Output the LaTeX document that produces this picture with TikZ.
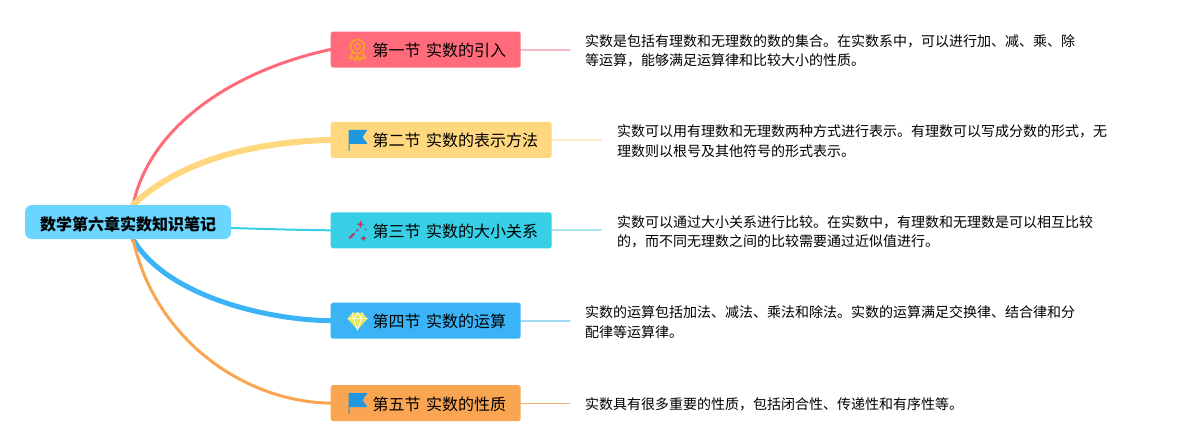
\documentclass[tikz,border=0pt]{standalone}
\usepackage{fontspec}
\setmainfont{Noto Sans CJK SC}
\usetikzlibrary{arrows.meta,positioning,backgrounds,calc}
\definecolor{croot}{HTML}{6AD5FF}
\definecolor{cred}{HTML}{FF6B7A}
\definecolor{credL}{HTML}{F6BCC6}
\definecolor{cyel}{HTML}{FFD77E}
\definecolor{cyelL}{HTML}{FDEBC4}
\definecolor{ccya}{HTML}{36CFE5}
\definecolor{ccyaL}{HTML}{A6E5EF}
\definecolor{cblu}{HTML}{3AB4F7}
\definecolor{cbluL}{HTML}{A0DAF5}
\definecolor{cora}{HTML}{F9A552}
\definecolor{coraL}{HTML}{F4B47A}
\definecolor{cflag}{HTML}{1E96E0}
\definecolor{caward}{HTML}{F5A623}
\definecolor{cwand}{HTML}{C2336A}
\definecolor{cgem}{HTML}{E6E85A}
\newcommand{\iconspace}{\hspace*{30pt}}
\tikzset{
  rootbox/.style={fill=croot, rounded corners=7pt, minimum width=206pt, minimum height=34pt,
                  inner sep=0pt, text height=18pt, text depth=2pt, font=\fontsize{16}{16}\selectfont\bfseries},
  topic/.style={rounded corners=2.5pt, minimum height=36pt, inner xsep=12pt, inner ysep=0pt,
                text height=16pt, text depth=2pt, align=left, font=\fontsize{16}{16}\selectfont},
  leaf/.style={inner sep=0pt, yshift=-1.5pt, align=left, font=\fontsize{14}{19.5}\selectfont},
  branch/.style={line width=#1, line cap=round},
  flagicon/.pic={
    \fill[cflag] (-9,-10) -- (10,-10) -- (5,-3) -- (10,4) -- (-8,4) -- (-8,11) -- (-9,11) -- cycle;
  },
  awardicon/.pic={
    \draw[caward, line width=1.5pt] (0,-3) circle (7pt);
    \draw[caward, line width=1.2pt] (0,-3) circle (3pt);
    \draw[caward, line width=1.5pt, line join=round] (-5,3) -- (-8,9) -- (-4,8) -- (-2,11) -- (0,6) -- (2,11) -- (4,8) -- (8,9) -- (5,3);
  },
  wandicon/.pic={
    \draw[cwand, line width=2pt] (-8,8) -- (-3,3);
    \draw[cwand, line width=1.2pt] (-1,1) -- (1,-1);
    \fill[cwand] (3,-10) -- (4,-7) -- (7,-6) -- (4,-5) -- (3,-2) -- (2,-5) -- (-1,-6) -- (2,-7) -- cycle;
    \fill[cwand] (6,5) -- (7,7) -- (9,8) -- (7,9) -- (6,11) -- (5,9) -- (3,8) -- (5,7) -- cycle;
    \fill[cwand] (8,-1) circle (1pt);
  },
  gemicon/.pic={
    \fill[cgem] (-5,-8) -- (5,-8) -- (10,-2) -- (0,9) -- (-10,-2) -- cycle;
    \draw[white, line width=0.7pt] (-10,-2) -- (10,-2) (-5,-8) -- (-4,-2) -- (0,9) -- (4,-2) -- (5,-8) (-4,-2) -- (0,-8) -- (4,-2);
  },
}
\begin{document}
\begin{tikzpicture}[x=1pt,y=-1pt]
  \useasboundingbox (0,0) rectangle (1177,445);
  \node[rootbox] (root) at (128,222) {数学第六章实数知识笔记};
  \coordinate (rootn) at (133,205);
  \coordinate (roots) at (133,239);
  \coordinate (roote) at (231,228);
  \node[topic, fill=cred, text width=166pt, anchor=west] (t1) at (330.5,49.5) {\iconspace 第一节 实数的引入};
  \node[topic, fill=cyel, text width=197pt, below=54pt of t1.south west, anchor=north west] (t2) {\iconspace 第二节 实数的表示方法};
  \node[topic, fill=ccya, text width=197pt, below=54pt of t2.south west, anchor=north west] (t3) {\iconspace 第三节 实数的大小关系};
  \node[topic, fill=cblu, text width=166pt, below=54pt of t3.south west, anchor=north west] (t4) {\iconspace 第四节 实数的运算};
  \node[topic, fill=cora, text width=166pt, below=46pt of t4.south west, anchor=north west] (t5) {\iconspace 第五节 实数的性质};
  \node[leaf, right=64pt of t1] (l1) {实数是包括有理数和无理数的数的集合。在实数系中，可以进行加、减、乘、除\\等运算，能够满足运算律和比较大小的性质。};
  \node[leaf, right=65pt of t2] (l2) {实数可以用有理数和无理数两种方式进行表示。有理数可以写成分数的形式，无\\理数则以根号及其他符号的形式表示。};
  \node[leaf, right=65pt of t3] (l3) {实数可以通过大小关系进行比较。在实数中，有理数和无理数是可以相互比较\\的，而不同无理数之间的比较需要通过近似值进行。};
  \node[leaf, right=64pt of t4] (l4) {实数的运算包括加法、减法、乘法和除法。实数的运算满足交换律、结合律和分\\配律等运算律。};
  \node[leaf, right=64pt of t5] (l5) {实数具有很多重要的性质，包括闭合性、传递性和有序性等。};
  \foreach \a in {1,...,5}
     \coordinate[right=49pt of t\a] (e\a);
  \begin{scope}[on background layer]
    \draw[branch=3pt, color=cred] (rootn) .. controls (150,125) and (235,70) .. (t1.west);
    \draw[branch=6pt, color=cyel] (rootn) .. controls (180,160) and (255,142) .. (t2.west);
    \draw[branch=2pt, color=ccya] (roote) .. controls (265,229) and (300,230) .. (t3.west);
    \draw[branch=5pt, color=cblu] (roots) .. controls (165,295) and (265,320) .. (t4.west);
    \draw[branch=3pt, color=cora] (roots) .. controls (155,340) and (245,402) .. (t5.west);
    \draw[branch=2pt, color=credL] (t1) -- (e1);
    \draw[branch=2pt, color=cyelL] (t2) -- (e2);
    \draw[branch=2pt, color=ccyaL] (t3) -- (e3);
    \draw[branch=2pt, color=cbluL] (t4) -- (e4);
    \draw[branch=1pt, color=coraL] (t5) -- (e5);
  \end{scope}
  \pic at ($(t1.west)+(27,0)$) {awardicon};
  \pic at ($(t2.west)+(27,0)$) {flagicon};
  \pic at ($(t3.west)+(27,0)$) {wandicon};
  \pic at ($(t4.west)+(27,0)$) {gemicon};
  \pic at ($(t5.west)+(27,0)$) {flagicon};
\end{tikzpicture}
\end{document}
